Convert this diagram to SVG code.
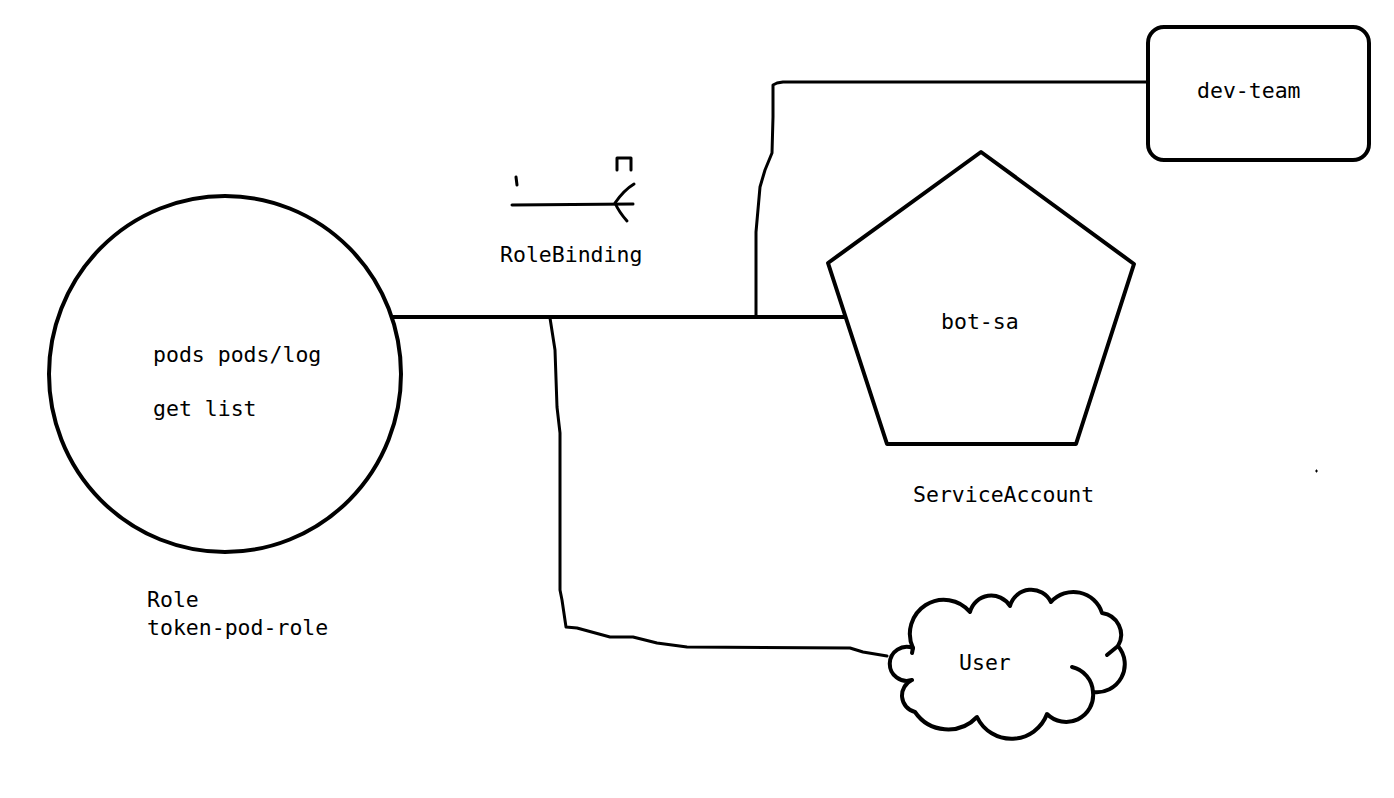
<svg xmlns="http://www.w3.org/2000/svg" width="1394" height="798" viewBox="0 0 1394 798">
<style>
.shape{fill:#fff;stroke:#000;stroke-width:4;stroke-linejoin:round}
.thin{fill:none;stroke:#000;stroke-width:3;stroke-linejoin:round;stroke-linecap:round}
.thick{fill:none;stroke:#000;stroke-width:4}
.t{font-family:"DejaVu Sans Mono","Liberation Mono",monospace;font-size:21.5px;fill:#000}
</style>
<rect width="1394" height="798" fill="#fff"/>
<g id="connectors">
<path class="thin" d="M756,317 L756,232 L760,187 L765,170 L772,153 L773,117 L773,85 L777,83 L783,82 L1147,82"/>
<path class="thin" d="M550,318 L555,350 L557,407 L560,433 L560,590 L562,600 L566,627 L577,628 L610,637 L633,637 L657,643 L687,647 L850,648 L863,652 L887,656"/>
<path class="thick" d="M393,317 L846,317"/>
</g>
<g id="role">
<ellipse class="shape" cx="225" cy="374" rx="176" ry="178"/>
<text class="t" x="153" y="362">pods pods/log</text>
<text class="t" x="153" y="416">get list</text>
<text class="t" x="147" y="607">Role</text>
<text class="t" x="147" y="635">token-pod-role</text>
</g>
<g id="rolebinding">
<path class="thin" d="M512,205 L633,204"/>
<path class="thin" d="M634,184 Q624,190 615,203 Q619,212 627,221"/>
<path class="thin" d="M516,177 L517,185"/>
<path class="thin" d="M617,170 L617,158 L631,158 L631,170"/>
<text class="t" x="500" y="262">RoleBinding</text>
</g>
<g id="bot-sa">
<polygon class="shape" points="981,152 1134,264 1076,444 887,444 828,263"/>
<text class="t" x="941" y="329">bot-sa</text>
<text class="t" x="913" y="502">ServiceAccount</text>
</g>
<g id="dev-team">
<rect class="shape" x="1148" y="27" width="221" height="133" rx="16" ry="16"/>
<text class="t" x="1197" y="98">dev-team</text>
</g>
<g id="user">
<path class="shape" d="M912,680 A17 17 0 1 1 913,648 A34 34 0 0 1 970,612 A22 22 0 0 1 1010,606 A22 22 0 0 1 1051,602 A30 30 0 0 1 1102,613 A22 22 0 0 1 1118,646 A28 28 0 0 1 1093,692 A27 27 0 0 1 1047,714 A38 38 0 0 1 977,717 A40 40 0 0 1 915,712 A17 17 0 0 1 912,680 Z"/>
<path class="thin" style="stroke-width:4" d="M1093,692 A27 27 0 0 0 1072,667"/>
<path class="thin" style="stroke-width:4" d="M1118,646 L1107,655"/>
<path class="thin" style="stroke-width:4" d="M913,648 L912,653"/>
<text class="t" x="959" y="670">User</text>
</g>
<path d="M1315,471 h3 M1316.5,469.5 v3" stroke="#000" stroke-width="1"/>
</svg>
